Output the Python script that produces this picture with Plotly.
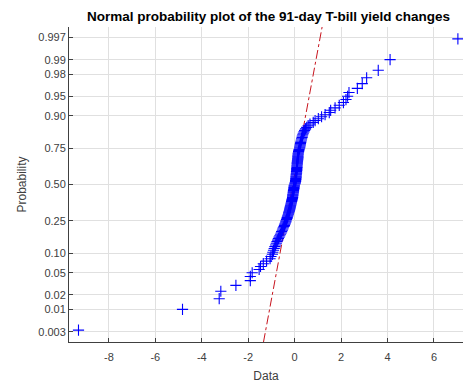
import plotly.graph_objects as go
from statistics import NormalDist

title_text = "Normal probability plot of the 91-day T-bill yield changes"

# sorted 91-day T-bill yield changes
yield_changes = [
    -9.31, -4.83, -3.25, -3.18, -2.53, -1.91, -1.91, -1.83, -1.53, -1.47, -1.35, -1.21, -1.06, -1.02, -0.96,
    -0.94, -0.91, -0.88, -0.85, -0.82, -0.79, -0.76, -0.73, -0.70, -0.67, -0.64, -0.61, -0.58, -0.56, -0.53,
    -0.51, -0.49, -0.46, -0.44, -0.42, -0.40, -0.38, -0.37, -0.35, -0.33, -0.32, -0.30, -0.29, -0.27, -0.26,
    -0.25, -0.23, -0.22, -0.21, -0.20, -0.19, -0.18, -0.17, -0.16, -0.15, -0.14, -0.13, -0.12, -0.11, -0.10,
    -0.09, -0.09, -0.08, -0.08, -0.07, -0.06, -0.06, -0.05, -0.05, -0.04, -0.03, -0.03, -0.02, -0.02, -0.01,
    0.01, 0.02, 0.03, 0.04, 0.04, 0.05, 0.05, 0.06, 0.06, 0.06, 0.07, 0.07, 0.08, 0.08, 0.08,
    0.09, 0.09, 0.09, 0.10, 0.10, 0.10, 0.11, 0.11, 0.11, 0.12, 0.12, 0.13, 0.13, 0.14, 0.14,
    0.14, 0.15, 0.15, 0.16, 0.17, 0.18, 0.19, 0.21, 0.22, 0.23, 0.24, 0.25, 0.26, 0.27, 0.29,
    0.30, 0.32, 0.33, 0.35, 0.37, 0.40, 0.43, 0.47, 0.52, 0.58, 0.66, 0.80, 0.88, 1.02, 1.16,
    1.31, 1.49, 1.55, 1.74, 1.92, 2.10, 2.21, 2.28, 2.34, 2.70, 2.91, 3.10, 3.60, 4.11, 7.03,
]

prob_ticks = [0.003, 0.01, 0.02, 0.05, 0.10, 0.25, 0.50, 0.75, 0.90, 0.95, 0.98, 0.99, 0.997]
prob_labels = ["0.003", "0.01", "0.02", "0.05", "0.10", "0.25", "0.50", "0.75", "0.90", "0.95", "0.98", "0.99", "0.997"]
x_ticks = [-8, -6, -4, -2, 0, 2, 4, 6]

nd = NormalDist()
data = sorted(yield_changes)
n = len(data)
probs = [(i + 0.5) / n for i in range(n)]
zvals = [nd.inv_cdf(p) for p in probs]

# reference line through 1st and 3rd quartiles
def prctile(vals, q):
    pos = q * len(vals) + 0.5
    lo = int(pos) - 1
    frac = pos - int(pos)
    hi = min(lo + 1, len(vals) - 1)
    return vals[lo] + frac * (vals[hi] - vals[lo])

q1, q3 = prctile(data, 0.25), prctile(data, 0.75)
z1, z3 = nd.inv_cdf(0.25), nd.inv_cdf(0.75)
zlo, zhi = nd.inv_cdf(0.25 / n), nd.inv_cdf(1 - 0.25 / n)
slope = (q3 - q1) / (z3 - z1)
line_z = [zlo, zhi]
line_x = [q1 + slope * (z - z1) for z in line_z]

rng = data[-1] - data[0]
xlo = data[0] - 0.025 * rng

fig = go.Figure()
fig.add_trace(go.Scatter(
    x=line_x, y=line_z, mode="lines",
    line=dict(color="rgb(200,20,30)", width=1, dash="dashdot"),
    showlegend=False, hoverinfo="skip",
))
fig.add_trace(go.Scatter(
    x=data, y=zvals, mode="markers",
    marker=dict(symbol="cross-thin", size=8, line=dict(color="rgb(0,0,255)", width=1.1)),
    showlegend=False,
))

font_family = "Liberation Sans, Arial, sans-serif"
fig.update_layout(
    width=463, height=385,
    margin=dict(l=69, r=0, t=27, b=43),
    paper_bgcolor="white", plot_bgcolor="white",
    font=dict(family=font_family, size=11, color="#404040"),
    title=dict(text="<b>" + title_text + "</b>", x=0.58, xanchor="center",
               y=0.958, yanchor="middle",
               font=dict(family=font_family, size=13.5, color="black")),
    xaxis=dict(
        range=[xlo, 7.25], tickvals=x_ticks, ticktext=[str(v) for v in x_ticks],
        showgrid=True, gridcolor="#e0e0e0", gridwidth=1,
        zeroline=False, showline=True, linecolor="#404040", linewidth=1,
        ticks="inside", ticklen=4, tickcolor="#404040", ticklabelstandoff=5,
        title=dict(text="Data", font=dict(size=12, color="#404040"), standoff=9),
        tickfont=dict(size=11, color="#404040"),
    ),
    yaxis=dict(
        range=[zlo, zhi],
        tickvals=[nd.inv_cdf(p) for p in prob_ticks], ticktext=prob_labels,
        showgrid=True, gridcolor="#e0e0e0", gridwidth=1,
        zeroline=False, showline=True, linecolor="#404040", linewidth=1,
        ticks="inside", ticklen=4, tickcolor="#404040",
        title=dict(text="Probability", font=dict(size=12, color="#404040"), standoff=9),
        tickfont=dict(size=11, color="#404040"),
    ),
)

fig.write_html("out.html")
